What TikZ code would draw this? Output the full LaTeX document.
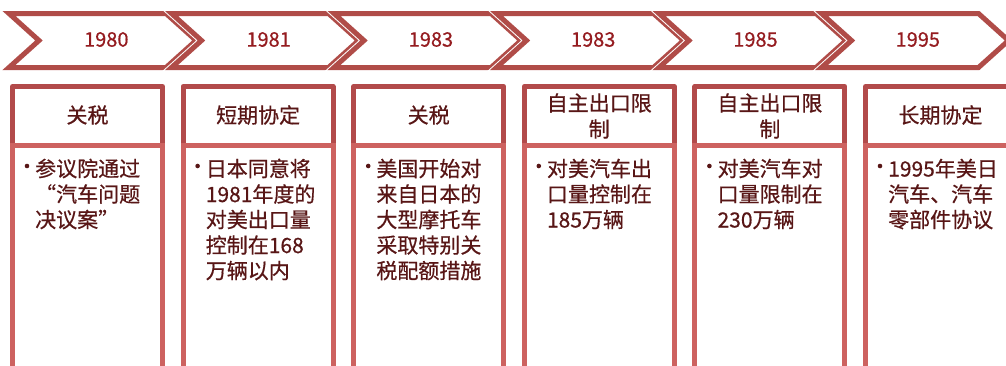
\documentclass[tikz,border=0pt]{standalone}
\usepackage{fontspec}
\setmainfont{Noto Sans CJK SC}[FakeBold=0.6]
\definecolor{chev}{HTML}{B04C48}
\definecolor{headline}{HTML}{B24A4A}
\definecolor{bodyline}{HTML}{CD6260}
\definecolor{yeartxt}{HTML}{951C20}
\definecolor{maintxt}{HTML}{581616}
\tikzset{
  chevwhite/.style={draw=white, line width=7pt, line join=miter},
  chevred/.style={draw=chev, fill=white, line width=5pt, line join=miter},
  yearlabel/.style={text=yeartxt, font=\fontsize{20pt}{24pt}\selectfont, inner sep=0pt},
  headborder/.style={draw=headline, line width=5pt, line join=round},
  bodyborder/.style={draw=bodyline, line width=5pt, line join=miter},
  headtxt/.style={text=maintxt, font=\fontsize{21pt}{26pt}\selectfont, inner sep=0pt, align=center},
  bodytxt/.style={text=maintxt, font=\fontsize{21pt}{25.5pt}\selectfont, inner sep=0pt, text width=120pt, align=left, anchor=base west},
  bulletdot/.style={circle, fill=maintxt, inner sep=0pt, minimum size=4.6pt}
}
\newcommand{\fwq}[1]{{\addfontfeatures{RawFeature=+fwid}#1}}
\begin{document}
\begin{tikzpicture}[x=1pt,y=-1pt]
\useasboundingbox (0,0) rectangle (1006,365);
\clip (0,0) rectangle (1006,365);
% chevrons
\foreach \yr [count=\i from 0] in {1980,1981,1983,1983,1985,1995} {
  \pgfmathsetmacro{\o}{7+162.5*\i}
  \draw[chevwhite] (\o+2,13.5) -- (\o+159,13.5) -- (\o+189,40.5) -- (\o+159,67.5) -- (\o+2,67.5) -- (\o+32,40.5) -- cycle;
  \draw[chevred] (\o+2,13.5) -- (\o+159,13.5) -- (\o+189,40.5) -- (\o+159,67.5) -- (\o+2,67.5) -- (\o+32,40.5) -- cycle;
  \pgfmathsetmacro{\yx}{106.3+162.3*\i}
  \node[yearlabel] (y\i) at (\yx,39.5) {\yr};
}
% boxes
\foreach \i in {0,...,5} {
  \pgfmathsetmacro{\l}{12.5+170.6*\i}
  \pgfmathsetmacro{\r}{\l+150}
  \draw[bodyborder] (\l,400) -- (\l,145.5) -- (\r,145.5) -- (\r,400);
  \draw[headborder] (\l,143) -- (\l,86.5) -- (\r,86.5) -- (\r,143);
  \node[bulletdot] (d\i) at (\l+14.5,166) {};
}
% headers
\node[headtxt] (h0) at (87.5,115) {关税};
\node[headtxt] (h1) at (258.1,115) {短期协定};
\node[headtxt] (h2) at (428.7,115) {关税};
\node[headtxt] (h3) at (599.3,116) {自主出口限\\制};
\node[headtxt] (h4) at (769.9,116) {自主出口限\\制};
\node[headtxt] (h5) at (940.5,115) {长期协定};
% bodies
\node[bodytxt] (b0) at (35,176.5) {参议院通过\\\fwq{“}汽车问题\\决议案\fwq{”}};
\node[bodytxt] (b1) at (205.6,176.5) {日本同意将\\1981年度的\\对美出口量\\控制在168\\万辆以内};
\node[bodytxt] (b2) at (376.2,176.5) {美国开始对\\来自日本的\\大型摩托车\\采取特别关\\税配额措施};
\node[bodytxt] (b3) at (546.8,176.5) {对美汽车出\\口量控制在\\185万辆};
\node[bodytxt] (b4) at (717.4,176.5) {对美汽车对\\口量限制在\\230万辆};
\node[bodytxt] (b5) at (888,176.5) {1995年美日\\汽车、汽车\\零部件协议};
\end{tikzpicture}
\end{document}
